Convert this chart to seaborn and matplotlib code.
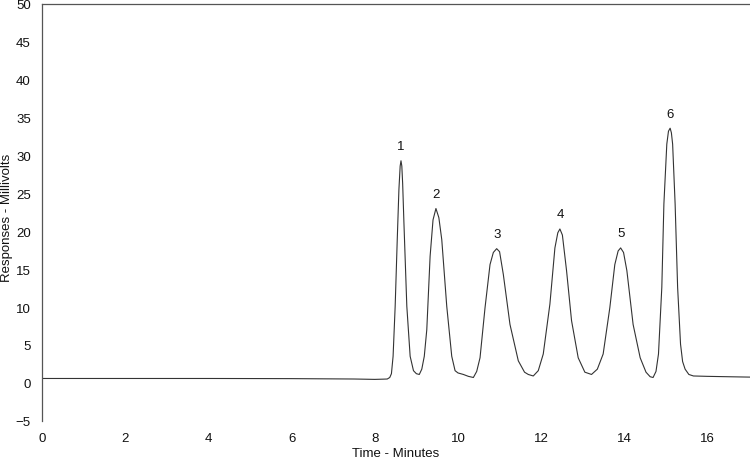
#!/usr/bin/env python3

import matplotlib

matplotlib.use("Agg")
import matplotlib.pyplot as plt
import numpy as np
import pandas as pd
import seaborn as sns
from matplotlib.ticker import MultipleLocator

OUTPUT = "out.png"

# chromatogram trace (minutes, millivolts)
time_min = [
    0.0, 2.0, 4.0, 6.0, 7.5, 8.0, 8.2, 8.3, 8.36, 8.40,
    8.44, 8.49, 8.54, 8.58, 8.61, 8.63, 8.65, 8.67, 8.70, 8.77,
    8.85, 8.93, 9.00, 9.07, 9.13, 9.19, 9.25, 9.33, 9.40, 9.47,
    9.54, 9.61, 9.73, 9.85, 9.93, 10.00, 10.13, 10.25, 10.37, 10.45,
    10.53, 10.65, 10.77, 10.85, 10.93, 11.00, 11.09, 11.25, 11.45, 11.60,
    11.69, 11.81, 11.93, 12.05, 12.21, 12.33, 12.40, 12.45, 12.51, 12.61,
    12.73, 12.89, 13.05, 13.21, 13.35, 13.49, 13.65, 13.77, 13.85, 13.91,
    13.98, 14.06, 14.21, 14.38, 14.52, 14.62, 14.69, 14.76, 14.82, 14.90,
    14.95, 15.02, 15.06, 15.10, 15.13, 15.16, 15.22, 15.28, 15.35, 15.40,
    15.46, 15.55, 15.66, 16.00, 16.50, 17.02,
]
response_mv = [
    0.57, 0.57, 0.57, 0.55, 0.50, 0.45, 0.48, 0.50, 0.70, 1.2,
    3.5, 10.1, 18.9, 25.5, 28.6, 29.3, 28.6, 26.3, 21.2, 10.1,
    3.5, 1.6, 1.2, 1.1, 1.8, 3.5, 7.0, 16.7, 21.5, 23.0,
    21.8, 18.9, 10.1, 3.5, 1.6, 1.3, 1.1, 0.85, 0.70, 1.5,
    3.3, 9.9, 15.6, 17.2, 17.7, 17.3, 14.3, 7.7, 2.9, 1.4,
    1.1, 0.9, 1.6, 3.8, 10.4, 17.8, 19.8, 20.3, 19.5, 14.8,
    8.2, 3.3, 1.4, 1.1, 1.8, 3.8, 9.9, 15.6, 17.4, 17.8,
    17.2, 14.8, 7.7, 3.3, 1.4, 0.8, 0.7, 1.5, 3.8, 12.6,
    23.6, 31.5, 33.2, 33.6, 33.0, 31.5, 23.6, 12.6, 5.1, 2.8,
    1.8, 1.1, 0.9, 0.85, 0.80, 0.75,
]
peak_labels = ["1", "2", "3", "4", "5", "6"]


def plot_chromatogram(dataset: pd.DataFrame):
    fig = plt.figure(figsize=(7.5, 4.6), dpi=100)
    ax = fig.add_axes([0.056, 0.0833, 0.944, 0.906])

    sns.lineplot(
        data=dataset,
        x="time",
        y="response",
        color="#333333",
        linewidth=0.8,
        ax=ax,
    )

    # label the local maxima in order
    t = dataset["time"].to_numpy()
    v = dataset["response"].to_numpy()
    apex = [i for i in range(1, len(v) - 1)
            if v[i] > v[i - 1] and v[i] >= v[i + 1] and v[i] > 5]
    for lab, i in zip(peak_labels, apex):
        ax.annotate(lab, (t[i], v[i]), xytext=(0, 10.5),
                    textcoords="offset points", ha="center", va="center",
                    fontsize=9.5, color="#111111")

    ax.set_xlim(0, 17.02)
    ax.set_ylim(-5, 50)
    ax.xaxis.set_major_locator(MultipleLocator(2))
    ax.xaxis.set_minor_locator(MultipleLocator(1))
    ax.yaxis.set_major_locator(MultipleLocator(5))
    ax.yaxis.set_minor_locator(MultipleLocator(2.5))
    ax.tick_params(which="major", length=6, width=0.8, color="#555555",
                   labelsize=9.5, labelcolor="#111111", pad=2)
    ax.tick_params(which="minor", length=4, width=0.8, color="#bbbbbb")

    for side in ("bottom", "right"):
        ax.spines[side].set_visible(False)
    for side in ("left", "top"):
        ax.spines[side].set_color("#555555")
        ax.spines[side].set_linewidth(0.9)

    ax.set_xlabel("Time - Minutes", fontsize=9.5, color="#111111",
                  va="center")
    ax.xaxis.set_label_coords(0.5, -0.077)
    ax.set_ylabel("Responses - Millivolts", fontsize=9.5, color="#111111",
                  va="center")
    ax.yaxis.set_label_coords(-0.049, 0.49)
    ax.grid(False)
    fig.savefig(OUTPUT, dpi=100)


def main():
    sns.set_theme(style="white")
    plt.rcParams["font.family"] = ["Liberation Sans", "DejaVu Sans"]
    trace = pd.DataFrame({"time": time_min, "response": response_mv})
    plot_chromatogram(trace)


if __name__ == "__main__":
    main()
